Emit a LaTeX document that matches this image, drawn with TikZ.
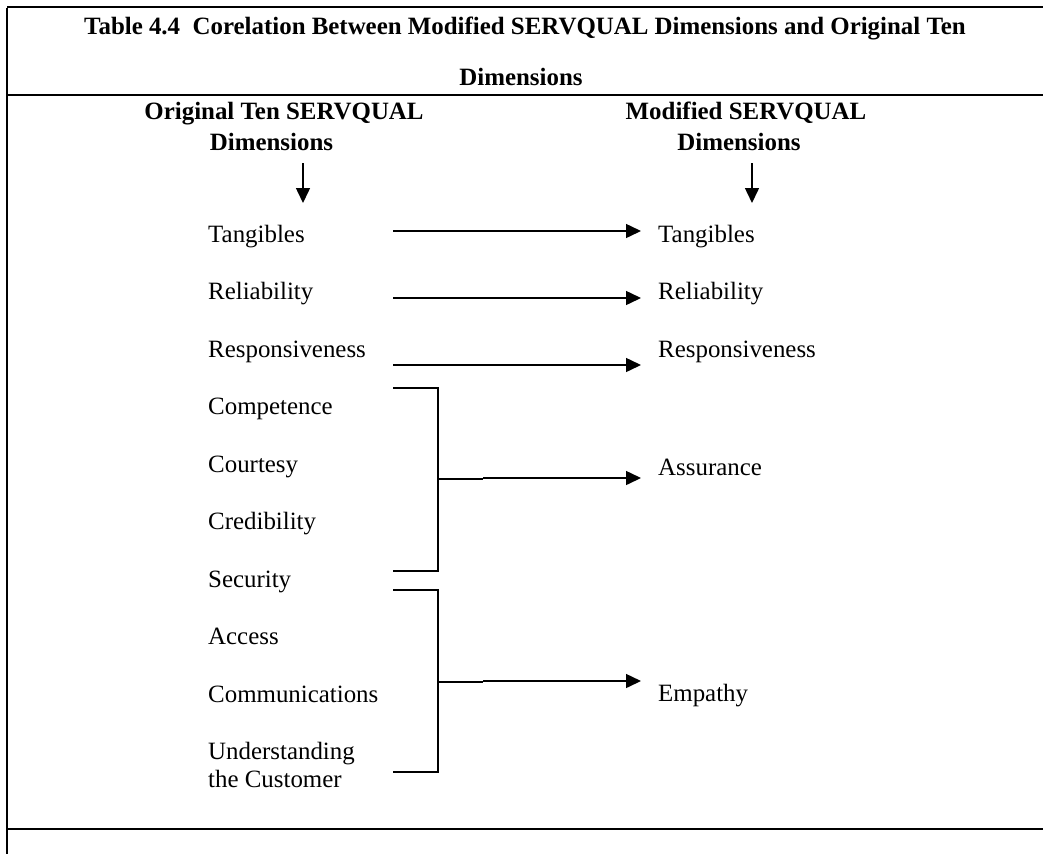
\documentclass[tikz,border=0pt]{standalone}
\usepackage{fontspec}
\setmainfont{Liberation Serif}
\usetikzlibrary{arrows.meta}
\begin{document}
\begin{tikzpicture}[x=1pt,y=-1pt,
  every node/.style={inner sep=0pt, font=\fontsize{24.9}{28}\selectfont},
  item/.style={anchor=base west},
  head/.style={anchor=base, font=\fontsize{24.9}{28}\selectfont\bfseries},
  rule/.style={line width=2.4pt},
  link/.style={line width=1.5pt},
  stub/.style={line width=2pt},
  arr/.style={line width=1.5pt, -{Triangle[length=15pt,width=14pt]}}]
\useasboundingbox (0,0) rectangle (1043,854);

% table frame
\coordinate (tl) at (7,7);
\coordinate (tr) at (1043,7);
\coordinate (bl) at (7,854);
\draw[rule] (tl) -- (tr);
\draw[rule] ([yshift=-1.2pt]tl) -- (bl);
\draw[rule] (7,95) -- (1043,95);
\draw[rule] (7,829) -- (1043,829);

% caption
\node[head] (title1) at (525,34) {Table 4.4\ \ Corelation Between Modified SERVQUAL Dimensions and Original Ten};
\node[head] (title2) at (521,85) {Dimensions};

% column headings
\node[head] (lh1) at (284,119) {Original Ten SERVQUAL};
\node[head] (lh2) at (271.5,150.5) {Dimensions};
\node[head] (rh1) at (746,119) {Modified SERVQUAL};
\node[head] (rh2) at (739,150.5) {Dimensions};
\coordinate (la) at (303,163);
\coordinate (ra) at (752,163);
\draw[arr] (la) -- ++(0,40);
\draw[arr] (ra) -- ++(0,40);

% original ten dimensions
\node[item] (tan)  at (208,242)   {Tangibles};
\node[item] (rel)  at (208,299.5) {Reliability};
\node[item] (res)  at (208,357)   {Responsiveness};
\node[item] (com)  at (208,414.5) {Competence};
\node[item] (cou)  at (208,472)   {Courtesy};
\node[item] (cre)  at (208,529.5) {Credibility};
\node[item] (sec)  at (208,587)   {Security};
\node[item] (acc)  at (208,644.5) {Access};
\node[item] (cmm)  at (208,702)   {Communications};
\node[item] (und)  at (208,759.5) {Understanding};
\node[item] (cus)  at (208,787.5) {the Customer};

% modified dimensions
\node[item] (mtan) at (658,242)   {Tangibles};
\node[item] (mrel) at (658,299.5) {Reliability};
\node[item] (mres) at (658,357)   {Responsiveness};
\node[item] (mass) at (658,475)   {Assurance};
\node[item] (memp) at (658,701)   {Empathy};

% one-to-one links
\coordinate (s1) at (393,231);
\coordinate (s2) at (393,298);
\coordinate (s3) at (393,365);
\draw[arr, shorten >=17pt] (s1) -- (s1 -| mtan.west);
\draw[arr, shorten >=17pt] (s2) -- (s2 -| mrel.west);
\draw[arr, shorten >=17pt] (s3) -- (s3 -| mres.west);

% bracket: competence .. credibility -> assurance
\coordinate (b1t) at (393,388);
\coordinate (b1b) at (393,571);
\coordinate (b1m) at (438,479);
\coordinate (b1k) at (483,478);
\draw[link] (b1t) -| (b1m) |- (b1b);
\draw[stub] (b1m) -- (b1k |- b1m);
\draw[arr, shorten >=17pt] (b1k) -- (b1k -| mass.west);

% bracket: access .. understanding the customer -> empathy
\coordinate (b2t) at (393,590);
\coordinate (b2b) at (393,772);
\coordinate (b2m) at (438,682);
\coordinate (b2k) at (483,681);
\draw[link] (b2t) -| (b2m) |- (b2b);
\draw[stub] (b2m) -- (b2k |- b2m);
\draw[arr, shorten >=17pt] (b2k) -- (b2k -| memp.west);
\end{tikzpicture}
\end{document}
